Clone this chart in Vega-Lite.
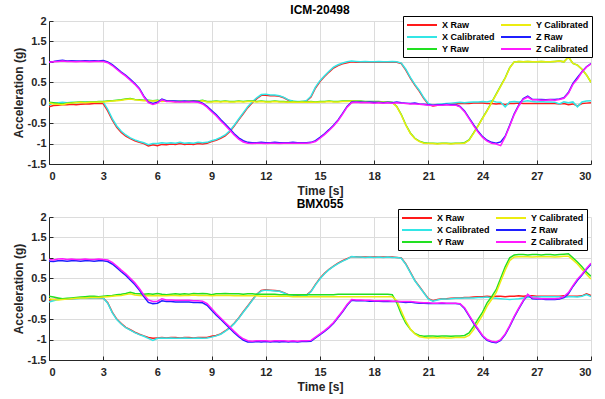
{
"$schema": "https://vega.github.io/schema/vega-lite/v6.json",
"background": "white",
"padding": {"left": 12, "top": 4, "right": 5, "bottom": 2},
"spacing": 1,
"datasets": {
"icm": [
{"t":0,"xr":-0.1,"xc":-0.05,"yr":0.01,"yc":0,"zr":1,"zc":0.99},
{"t":0.25,"xr":-0.07,"xc":-0.01,"yr":0,"yc":-0.03,"zr":1.01,"zc":1},
{"t":0.5,"xr":-0.06,"xc":0,"yr":-0.02,"yc":-0.04,"zr":1.03,"zc":1.01},
{"t":0.75,"xr":-0.05,"xc":0.01,"yr":-0.03,"yc":-0.05,"zr":1.04,"zc":1.02},
{"t":1,"xr":-0.05,"xc":0,"yr":-0.01,"yc":-0.02,"zr":1.02,"zc":1.01},
{"t":1.25,"xr":-0.04,"xc":0.01,"yr":0,"yc":-0.01,"zr":1.03,"zc":1.01},
{"t":1.5,"xr":-0.05,"xc":0,"yr":0.01,"yc":0,"zr":1.02,"zc":1},
{"t":1.75,"xr":-0.04,"xc":0.01,"yr":0.02,"yc":0.01,"zr":1.02,"zc":1.01},
{"t":2,"xr":-0.03,"xc":0.01,"yr":0.01,"yc":0,"zr":1.03,"zc":1.01},
{"t":2.25,"xr":-0.03,"xc":0.01,"yr":0.02,"yc":0.01,"zr":1.02,"zc":1},
{"t":2.5,"xr":-0.02,"xc":0.02,"yr":0.02,"yc":0.01,"zr":1.03,"zc":1.01},
{"t":2.75,"xr":-0.02,"xc":0.02,"yr":0.03,"yc":0.02,"zr":1.02,"zc":1.01},
{"t":3,"xr":-0.02,"xc":0.02,"yr":0.03,"yc":0.02,"zr":1.03,"zc":1.01},
{"t":3.25,"xr":-0.2,"xc":-0.16,"yr":0.04,"yc":0.03,"zr":1,"zc":0.98},
{"t":3.5,"xr":-0.42,"xc":-0.39,"yr":0.05,"yc":0.04,"zr":0.93,"zc":0.91},
{"t":3.75,"xr":-0.6,"xc":-0.57,"yr":0.06,"yc":0.05,"zr":0.84,"zc":0.82},
{"t":4,"xr":-0.73,"xc":-0.7,"yr":0.07,"yc":0.06,"zr":0.75,"zc":0.73},
{"t":4.25,"xr":-0.82,"xc":-0.79,"yr":0.09,"yc":0.08,"zr":0.67,"zc":0.65},
{"t":4.5,"xr":-0.88,"xc":-0.86,"yr":0.1,"yc":0.09,"zr":0.57,"zc":0.55},
{"t":4.75,"xr":-0.93,"xc":-0.91,"yr":0.08,"yc":0.07,"zr":0.47,"zc":0.45},
{"t":5,"xr":-0.97,"xc":-0.95,"yr":0.07,"yc":0.06,"zr":0.35,"zc":0.33},
{"t":5.25,"xr":-1,"xc":-0.98,"yr":0.06,"yc":0.05,"zr":0.16,"zc":0.14},
{"t":5.5,"xr":-1.06,"xc":-1.03,"yr":0.06,"yc":0.05,"zr":0.02,"zc":0},
{"t":5.75,"xr":-1.03,"xc":-1,"yr":0.05,"yc":0.04,"zr":-0.02,"zc":-0.04},
{"t":6,"xr":-1.05,"xc":-1,"yr":0.06,"yc":0.05,"zr":0.01,"zc":-0.01},
{"t":6.25,"xr":-1.02,"xc":-0.98,"yr":0.04,"yc":0.03,"zr":0.09,"zc":0.07},
{"t":6.5,"xr":-1.03,"xc":-0.99,"yr":0.05,"yc":0.04,"zr":0.05,"zc":0.03},
{"t":6.75,"xr":-1.01,"xc":-0.98,"yr":0.04,"yc":0.03,"zr":0.04,"zc":0.03},
{"t":7,"xr":-1.02,"xc":-0.99,"yr":0.03,"yc":0.02,"zr":0.04,"zc":0.02},
{"t":7.25,"xr":-1,"xc":-0.97,"yr":0.04,"yc":0.03,"zr":0.03,"zc":0.02},
{"t":7.5,"xr":-1.02,"xc":-0.99,"yr":0.03,"yc":0.02,"zr":0.04,"zc":0.02},
{"t":7.75,"xr":-1.01,"xc":-0.98,"yr":0.04,"yc":0.03,"zr":0.03,"zc":0.02},
{"t":8,"xr":-1.02,"xc":-0.99,"yr":0.05,"yc":0.04,"zr":0.04,"zc":0.02},
{"t":8.25,"xr":-1,"xc":-0.97,"yr":0.04,"yc":0.03,"zr":0.03,"zc":0.01},
{"t":8.5,"xr":-1.01,"xc":-0.98,"yr":0.06,"yc":0.05,"zr":-0.01,"zc":-0.03},
{"t":8.75,"xr":-0.99,"xc":-0.97,"yr":0.03,"yc":0.02,"zr":-0.09,"zc":-0.11},
{"t":9,"xr":-0.95,"xc":-0.93,"yr":0.03,"yc":0.02,"zr":-0.19,"zc":-0.22},
{"t":9.25,"xr":-0.92,"xc":-0.9,"yr":0.04,"yc":0.03,"zr":-0.29,"zc":-0.32},
{"t":9.5,"xr":-0.87,"xc":-0.85,"yr":0.03,"yc":0.02,"zr":-0.41,"zc":-0.44},
{"t":9.75,"xr":-0.81,"xc":-0.79,"yr":0.04,"yc":0.03,"zr":-0.52,"zc":-0.55},
{"t":10,"xr":-0.71,"xc":-0.69,"yr":0.03,"yc":0.02,"zr":-0.64,"zc":-0.67},
{"t":10.25,"xr":-0.57,"xc":-0.55,"yr":0.03,"yc":0.02,"zr":-0.76,"zc":-0.79},
{"t":10.5,"xr":-0.42,"xc":-0.4,"yr":0.04,"yc":0.03,"zr":-0.86,"zc":-0.89},
{"t":10.75,"xr":-0.27,"xc":-0.25,"yr":0.03,"yc":0.02,"zr":-0.93,"zc":-0.96},
{"t":11,"xr":-0.12,"xc":-0.1,"yr":0.04,"yc":0.03,"zr":-0.97,"zc":-0.99},
{"t":11.25,"xr":0,"xc":0.02,"yr":0.04,"yc":0.03,"zr":-0.98,"zc":-1},
{"t":11.5,"xr":0.1,"xc":0.12,"yr":0.03,"yc":0.02,"zr":-0.98,"zc":-0.99},
{"t":11.75,"xr":0.18,"xc":0.2,"yr":0.04,"yc":0.03,"zr":-0.97,"zc":-0.99},
{"t":12,"xr":0.18,"xc":0.21,"yr":0.03,"yc":0.02,"zr":-0.98,"zc":-1},
{"t":12.25,"xr":0.17,"xc":0.19,"yr":0.03,"yc":0.02,"zr":-0.98,"zc":-0.99},
{"t":12.5,"xr":0.17,"xc":0.19,"yr":0.04,"yc":0.03,"zr":-0.97,"zc":-0.99},
{"t":12.75,"xr":0.16,"xc":0.17,"yr":0.03,"yc":0.02,"zr":-0.98,"zc":-1},
{"t":13,"xr":0.12,"xc":0.13,"yr":0.03,"yc":0.02,"zr":-0.98,"zc":-0.99},
{"t":13.25,"xr":0.06,"xc":0.07,"yr":0.02,"yc":0.01,"zr":-0.98,"zc":-0.99},
{"t":13.5,"xr":0.03,"xc":0.04,"yr":0.03,"yc":0.02,"zr":-0.97,"zc":-0.99},
{"t":13.75,"xr":0.02,"xc":0.03,"yr":0.02,"yc":0.01,"zr":-0.98,"zc":-0.99},
{"t":14,"xr":0.02,"xc":0.03,"yr":0.03,"yc":0.02,"zr":-0.98,"zc":-0.99},
{"t":14.25,"xr":0.04,"xc":0.05,"yr":0.02,"yc":0.01,"zr":-0.98,"zc":-0.99},
{"t":14.5,"xr":0.14,"xc":0.16,"yr":0.03,"yc":0.02,"zr":-0.97,"zc":-0.98},
{"t":14.75,"xr":0.36,"xc":0.38,"yr":0.02,"yc":0.01,"zr":-0.93,"zc":-0.95},
{"t":15,"xr":0.52,"xc":0.54,"yr":0.03,"yc":0.02,"zr":-0.85,"zc":-0.87},
{"t":15.25,"xr":0.64,"xc":0.66,"yr":0.03,"yc":0.02,"zr":-0.76,"zc":-0.78},
{"t":15.5,"xr":0.75,"xc":0.77,"yr":0.04,"yc":0.03,"zr":-0.66,"zc":-0.68},
{"t":15.75,"xr":0.85,"xc":0.87,"yr":0.03,"yc":0.02,"zr":-0.55,"zc":-0.57},
{"t":16,"xr":0.91,"xc":0.93,"yr":0.03,"yc":0.02,"zr":-0.42,"zc":-0.44},
{"t":16.25,"xr":0.95,"xc":0.97,"yr":0.04,"yc":0.03,"zr":-0.26,"zc":-0.28},
{"t":16.5,"xr":0.98,"xc":1,"yr":0.04,"yc":0.03,"zr":-0.09,"zc":-0.11},
{"t":16.75,"xr":1,"xc":1.02,"yr":0.05,"yc":0.04,"zr":0.02,"zc":0},
{"t":17,"xr":0.99,"xc":1.01,"yr":0.04,"yc":0.03,"zr":0.02,"zc":0.01},
{"t":17.25,"xr":0.99,"xc":1,"yr":0.04,"yc":0.03,"zr":0.02,"zc":0},
{"t":17.5,"xr":0.99,"xc":1.01,"yr":0.03,"yc":0.02,"zr":0.01,"zc":0},
{"t":17.75,"xr":0.99,"xc":1,"yr":0.03,"yc":0.02,"zr":0.02,"zc":0},
{"t":18,"xr":0.99,"xc":1,"yr":0.03,"yc":0.02,"zr":0.01,"zc":-0.01},
{"t":18.25,"xr":0.99,"xc":1.01,"yr":0.03,"yc":0.02,"zr":0.01,"zc":0},
{"t":18.5,"xr":0.99,"xc":1,"yr":0.02,"yc":0.01,"zr":0,"zc":-0.01},
{"t":18.75,"xr":0.99,"xc":1,"yr":0.02,"yc":0.01,"zr":0.01,"zc":0},
{"t":19,"xr":0.99,"xc":1.01,"yr":0.01,"yc":0,"zr":0,"zc":-0.01},
{"t":19.25,"xr":0.99,"xc":1,"yr":-0.09,"yc":-0.1,"zr":0.02,"zc":0},
{"t":19.5,"xr":0.96,"xc":0.97,"yr":-0.29,"yc":-0.3,"zr":0,"zc":-0.01},
{"t":19.75,"xr":0.8,"xc":0.82,"yr":-0.54,"yc":-0.55,"zr":-0.01,"zc":-0.02},
{"t":20,"xr":0.6,"xc":0.62,"yr":-0.74,"yc":-0.75,"zr":-0.02,"zc":-0.03},
{"t":20.25,"xr":0.43,"xc":0.45,"yr":-0.87,"yc":-0.88,"zr":-0.01,"zc":-0.03},
{"t":20.5,"xr":0.28,"xc":0.3,"yr":-0.94,"yc":-0.95,"zr":-0.03,"zc":-0.04},
{"t":20.75,"xr":0.1,"xc":0.12,"yr":-0.98,"yc":-0.99,"zr":-0.04,"zc":-0.05},
{"t":21,"xr":-0.04,"xc":-0.02,"yr":-0.99,"yc":-1,"zr":-0.05,"zc":-0.06},
{"t":21.25,"xr":-0.08,"xc":-0.06,"yr":-0.99,"yc":-1,"zr":-0.06,"zc":-0.07},
{"t":21.5,"xr":-0.06,"xc":-0.04,"yr":-1,"yc":-1.01,"zr":-0.05,"zc":-0.06},
{"t":21.75,"xr":-0.05,"xc":-0.03,"yr":-0.99,"yc":-1,"zr":-0.05,"zc":-0.06},
{"t":22,"xr":-0.04,"xc":-0.02,"yr":-0.99,"yc":-1,"zr":-0.04,"zc":-0.05},
{"t":22.25,"xr":-0.03,"xc":-0.01,"yr":-1,"yc":-1.01,"zr":-0.05,"zc":-0.06},
{"t":22.5,"xr":-0.03,"xc":0,"yr":-0.99,"yc":-1,"zr":-0.05,"zc":-0.06},
{"t":22.75,"xr":-0.02,"xc":0.01,"yr":-0.99,"yc":-1,"zr":-0.09,"zc":-0.1},
{"t":23,"xr":-0.02,"xc":0,"yr":-0.98,"yc":-0.99,"zr":-0.2,"zc":-0.22},
{"t":23.25,"xr":-0.02,"xc":0.01,"yr":-0.91,"yc":-0.92,"zr":-0.37,"zc":-0.39},
{"t":23.5,"xr":-0.01,"xc":0.02,"yr":-0.74,"yc":-0.75,"zr":-0.54,"zc":-0.56},
{"t":23.75,"xr":-0.01,"xc":0.02,"yr":-0.56,"yc":-0.57,"zr":-0.7,"zc":-0.72},
{"t":24,"xr":-0.01,"xc":0.03,"yr":-0.37,"yc":-0.38,"zr":-0.83,"zc":-0.85},
{"t":24.25,"xr":-0.02,"xc":0.02,"yr":-0.19,"yc":-0.2,"zr":-0.92,"zc":-0.94},
{"t":24.5,"xr":-0.02,"xc":0.05,"yr":0.01,"yc":0,"zr":-0.97,"zc":-0.99},
{"t":24.75,"xr":-0.03,"xc":0.02,"yr":0.21,"yc":0.2,"zr":-0.99,"zc":-1.01},
{"t":25,"xr":-0.02,"xc":0.01,"yr":0.41,"yc":0.4,"zr":-0.96,"zc":-1.05},
{"t":25.25,"xr":-0.05,"xc":-0.1,"yr":0.61,"yc":0.6,"zr":-0.82,"zc":-0.84},
{"t":25.5,"xr":-0.02,"xc":0.02,"yr":0.86,"yc":0.85,"zr":-0.55,"zc":-0.57},
{"t":25.75,"xr":-0.02,"xc":0.03,"yr":1,"yc":1,"zr":-0.27,"zc":-0.29},
{"t":26,"xr":-0.01,"xc":0.02,"yr":1.01,"yc":1.01,"zr":-0.06,"zc":-0.08},
{"t":26.25,"xr":-0.02,"xc":0.03,"yr":1,"yc":1,"zr":0.1,"zc":0.08},
{"t":26.5,"xr":-0.02,"xc":0.05,"yr":1.01,"yc":1.01,"zr":0.16,"zc":0.14},
{"t":26.75,"xr":-0.02,"xc":0.03,"yr":1,"yc":1,"zr":0.08,"zc":0.07},
{"t":27,"xr":-0.02,"xc":0.02,"yr":1,"yc":1,"zr":0.08,"zc":0.07},
{"t":27.25,"xr":-0.02,"xc":0.03,"yr":1.01,"yc":1.01,"zr":0.08,"zc":0.06},
{"t":27.5,"xr":-0.02,"xc":0.02,"yr":1,"yc":1,"zr":0.07,"zc":0.06},
{"t":27.75,"xr":-0.02,"xc":0.02,"yr":1,"yc":1,"zr":0.08,"zc":0.07},
{"t":28,"xr":-0.02,"xc":0.01,"yr":1.01,"yc":1.01,"zr":0.08,"zc":0.06},
{"t":28.25,"xr":-0.03,"xc":-0.03,"yr":1.02,"yc":1.02,"zr":0.09,"zc":0.08},
{"t":28.5,"xr":-0.02,"xc":0.02,"yr":1,"yc":1,"zr":0.12,"zc":0.11},
{"t":28.75,"xr":-0.05,"xc":0,"yr":1.12,"yc":1.12,"zr":0.25,"zc":0.23},
{"t":29,"xr":-0.03,"xc":0.02,"yr":0.96,"yc":0.96,"zr":0.47,"zc":0.45},
{"t":29.25,"xr":-0.08,"xc":-0.1,"yr":0.92,"yc":0.92,"zr":0.62,"zc":0.58},
{"t":29.5,"xr":-0.02,"xc":0.02,"yr":0.82,"yc":0.82,"zr":0.76,"zc":0.75},
{"t":29.75,"xr":-0.01,"xc":0.04,"yr":0.68,"yc":0.68,"zr":0.88,"zc":0.87},
{"t":30,"xr":0,"xc":0.05,"yr":0.5,"yc":0.5,"zr":0.96,"zc":0.95}
],
"bmx": [
{"t":0,"xr":-0.03,"xc":-0.08,"yr":0.06,"yc":0,"zr":0.92,"zc":0.96},
{"t":0.25,"xr":-0.02,"xc":-0.05,"yr":0.04,"yc":-0.02,"zr":0.91,"zc":0.95},
{"t":0.5,"xr":-0.01,"xc":-0.02,"yr":0.02,"yc":-0.03,"zr":0.93,"zc":0.97},
{"t":0.75,"xr":0,"xc":-0.01,"yr":0,"yc":-0.02,"zr":0.93,"zc":0.98},
{"t":1,"xr":-0.01,"xc":-0.01,"yr":0.01,"yc":-0.01,"zr":0.92,"zc":0.96},
{"t":1.25,"xr":0,"xc":0,"yr":0.02,"yc":0,"zr":0.93,"zc":0.97},
{"t":1.5,"xr":0.01,"xc":0,"yr":0.03,"yc":0.01,"zr":0.93,"zc":0.96},
{"t":1.75,"xr":0.01,"xc":0.01,"yr":0.04,"yc":0.02,"zr":0.92,"zc":0.96},
{"t":2,"xr":0.02,"xc":0.01,"yr":0.05,"yc":0.02,"zr":0.93,"zc":0.97},
{"t":2.25,"xr":0.02,"xc":0.02,"yr":0.06,"yc":0.03,"zr":0.93,"zc":0.96},
{"t":2.5,"xr":0.03,"xc":0.02,"yr":0.06,"yc":0.03,"zr":0.92,"zc":0.96},
{"t":2.75,"xr":0.02,"xc":0.02,"yr":0.05,"yc":0.03,"zr":0.93,"zc":0.97},
{"t":3,"xr":0.02,"xc":0.02,"yr":0.06,"yc":0.04,"zr":0.93,"zc":0.96},
{"t":3.25,"xr":-0.1,"xc":-0.11,"yr":0.07,"yc":0.05,"zr":0.91,"zc":0.95},
{"t":3.5,"xr":-0.33,"xc":-0.34,"yr":0.08,"yc":0.06,"zr":0.85,"zc":0.89},
{"t":3.75,"xr":-0.5,"xc":-0.51,"yr":0.1,"yc":0.07,"zr":0.76,"zc":0.8},
{"t":4,"xr":-0.61,"xc":-0.62,"yr":0.11,"yc":0.08,"zr":0.66,"zc":0.7},
{"t":4.25,"xr":-0.7,"xc":-0.71,"yr":0.13,"yc":0.1,"zr":0.57,"zc":0.61},
{"t":4.5,"xr":-0.76,"xc":-0.77,"yr":0.16,"yc":0.12,"zr":0.46,"zc":0.5},
{"t":4.75,"xr":-0.82,"xc":-0.83,"yr":0.13,"yc":0.09,"zr":0.35,"zc":0.39},
{"t":5,"xr":-0.87,"xc":-0.88,"yr":0.12,"yc":0.08,"zr":0.21,"zc":0.25},
{"t":5.25,"xr":-0.91,"xc":-0.92,"yr":0.11,"yc":0.07,"zr":0.05,"zc":0.09},
{"t":5.5,"xr":-0.95,"xc":-0.97,"yr":0.12,"yc":0.08,"zr":-0.09,"zc":-0.03},
{"t":5.75,"xr":-0.97,"xc":-1.02,"yr":0.11,"yc":0.07,"zr":-0.12,"zc":-0.07},
{"t":6,"xr":-0.96,"xc":-0.97,"yr":0.13,"yc":0.08,"zr":-0.11,"zc":-0.06},
{"t":6.25,"xr":-0.95,"xc":-0.96,"yr":0.11,"yc":0.07,"zr":-0.05,"zc":0},
{"t":6.5,"xr":-0.96,"xc":-0.97,"yr":0.1,"yc":0.07,"zr":-0.07,"zc":-0.03},
{"t":6.75,"xr":-0.95,"xc":-0.96,"yr":0.11,"yc":0.08,"zr":-0.07,"zc":-0.03},
{"t":7,"xr":-0.95,"xc":-0.97,"yr":0.12,"yc":0.08,"zr":-0.08,"zc":-0.04},
{"t":7.25,"xr":-0.96,"xc":-0.97,"yr":0.11,"yc":0.07,"zr":-0.08,"zc":-0.04},
{"t":7.5,"xr":-0.95,"xc":-0.96,"yr":0.12,"yc":0.08,"zr":-0.08,"zc":-0.04},
{"t":7.75,"xr":-0.95,"xc":-0.97,"yr":0.11,"yc":0.08,"zr":-0.08,"zc":-0.04},
{"t":8,"xr":-0.96,"xc":-0.97,"yr":0.13,"yc":0.09,"zr":-0.09,"zc":-0.05},
{"t":8.25,"xr":-0.95,"xc":-0.96,"yr":0.12,"yc":0.08,"zr":-0.09,"zc":-0.05},
{"t":8.5,"xr":-0.95,"xc":-0.97,"yr":0.13,"yc":0.08,"zr":-0.1,"zc":-0.06},
{"t":8.75,"xr":-0.95,"xc":-0.96,"yr":0.12,"yc":0.08,"zr":-0.16,"zc":-0.12},
{"t":9,"xr":-0.92,"xc":-0.94,"yr":0.1,"yc":0.07,"zr":-0.28,"zc":-0.24},
{"t":9.25,"xr":-0.9,"xc":-0.91,"yr":0.12,"yc":0.08,"zr":-0.4,"zc":-0.36},
{"t":9.5,"xr":-0.86,"xc":-0.87,"yr":0.12,"yc":0.08,"zr":-0.5,"zc":-0.47},
{"t":9.75,"xr":-0.79,"xc":-0.8,"yr":0.13,"yc":0.08,"zr":-0.61,"zc":-0.58},
{"t":10,"xr":-0.71,"xc":-0.72,"yr":0.12,"yc":0.08,"zr":-0.72,"zc":-0.69},
{"t":10.25,"xr":-0.6,"xc":-0.61,"yr":0.12,"yc":0.07,"zr":-0.83,"zc":-0.8},
{"t":10.5,"xr":-0.47,"xc":-0.48,"yr":0.12,"yc":0.07,"zr":-0.93,"zc":-0.9},
{"t":10.75,"xr":-0.32,"xc":-0.33,"yr":0.11,"yc":0.07,"zr":-1.01,"zc":-0.98},
{"t":11,"xr":-0.18,"xc":-0.19,"yr":0.12,"yc":0.07,"zr":-1.06,"zc":-1.03},
{"t":11.25,"xr":-0.03,"xc":-0.04,"yr":0.12,"yc":0.07,"zr":-1.06,"zc":-1.04},
{"t":11.5,"xr":0.11,"xc":0.1,"yr":0.11,"yc":0.07,"zr":-1.05,"zc":-1.03},
{"t":11.75,"xr":0.2,"xc":0.19,"yr":0.11,"yc":0.06,"zr":-1.06,"zc":-1.03},
{"t":12,"xr":0.22,"xc":0.21,"yr":0.11,"yc":0.06,"zr":-1.05,"zc":-1.03},
{"t":12.25,"xr":0.21,"xc":0.2,"yr":0.11,"yc":0.06,"zr":-1.06,"zc":-1.04},
{"t":12.5,"xr":0.2,"xc":0.19,"yr":0.11,"yc":0.06,"zr":-1.05,"zc":-1.03},
{"t":12.75,"xr":0.19,"xc":0.18,"yr":0.1,"yc":0.06,"zr":-1.06,"zc":-1.03},
{"t":13,"xr":0.15,"xc":0.14,"yr":0.1,"yc":0.06,"zr":-1.05,"zc":-1.03},
{"t":13.25,"xr":0.1,"xc":0.09,"yr":0.1,"yc":0.06,"zr":-1.06,"zc":-1.04},
{"t":13.5,"xr":0.08,"xc":0.07,"yr":0.1,"yc":0.05,"zr":-1.05,"zc":-1.03},
{"t":13.75,"xr":0.07,"xc":0.06,"yr":0.1,"yc":0.05,"zr":-1.06,"zc":-1.04},
{"t":14,"xr":0.08,"xc":0.07,"yr":0.1,"yc":0.05,"zr":-1.05,"zc":-1.03},
{"t":14.25,"xr":0.09,"xc":0.08,"yr":0.1,"yc":0.05,"zr":-1.05,"zc":-1.03},
{"t":14.5,"xr":0.18,"xc":0.17,"yr":0.1,"yc":0.05,"zr":-1.04,"zc":-1.02},
{"t":14.75,"xr":0.35,"xc":0.34,"yr":0.1,"yc":0.05,"zr":-0.96,"zc":-0.94},
{"t":15,"xr":0.5,"xc":0.49,"yr":0.1,"yc":0.05,"zr":-0.88,"zc":-0.86},
{"t":15.25,"xr":0.62,"xc":0.61,"yr":0.1,"yc":0.05,"zr":-0.8,"zc":-0.78},
{"t":15.5,"xr":0.72,"xc":0.71,"yr":0.1,"yc":0.05,"zr":-0.71,"zc":-0.69},
{"t":15.75,"xr":0.8,"xc":0.79,"yr":0.1,"yc":0.05,"zr":-0.6,"zc":-0.58},
{"t":16,"xr":0.87,"xc":0.86,"yr":0.11,"yc":0.05,"zr":-0.46,"zc":-0.44},
{"t":16.25,"xr":0.93,"xc":0.92,"yr":0.11,"yc":0.05,"zr":-0.32,"zc":-0.3},
{"t":16.5,"xr":0.98,"xc":0.97,"yr":0.11,"yc":0.05,"zr":-0.16,"zc":-0.14},
{"t":16.75,"xr":1.03,"xc":1.03,"yr":0.11,"yc":0.05,"zr":-0.04,"zc":-0.02},
{"t":17,"xr":1.03,"xc":1.02,"yr":0.11,"yc":0.05,"zr":-0.05,"zc":-0.03},
{"t":17.25,"xr":1.02,"xc":1.02,"yr":0.11,"yc":0.05,"zr":-0.05,"zc":-0.03},
{"t":17.5,"xr":1.02,"xc":1.01,"yr":0.11,"yc":0.05,"zr":-0.05,"zc":-0.04},
{"t":17.75,"xr":1.02,"xc":1.02,"yr":0.11,"yc":0.05,"zr":-0.06,"zc":-0.04},
{"t":18,"xr":1.02,"xc":1.01,"yr":0.11,"yc":0.05,"zr":-0.06,"zc":-0.05},
{"t":18.25,"xr":1.02,"xc":1.02,"yr":0.11,"yc":0.05,"zr":-0.06,"zc":-0.05},
{"t":18.5,"xr":1.02,"xc":1.01,"yr":0.11,"yc":0.05,"zr":-0.07,"zc":-0.05},
{"t":18.75,"xr":1.02,"xc":1.02,"yr":0.11,"yc":0.05,"zr":-0.06,"zc":-0.05},
{"t":19,"xr":1.02,"xc":1.01,"yr":0.1,"yc":0.05,"zr":-0.07,"zc":-0.06},
{"t":19.25,"xr":1.01,"xc":1.01,"yr":-0.1,"yc":-0.05,"zr":-0.07,"zc":-0.06},
{"t":19.5,"xr":1,"xc":0.99,"yr":-0.38,"yc":-0.3,"zr":-0.08,"zc":-0.07},
{"t":19.75,"xr":0.85,"xc":0.84,"yr":-0.6,"yc":-0.55,"zr":-0.09,"zc":-0.07},
{"t":20,"xr":0.65,"xc":0.64,"yr":-0.75,"yc":-0.74,"zr":-0.08,"zc":-0.07},
{"t":20.25,"xr":0.45,"xc":0.44,"yr":-0.85,"yc":-0.86,"zr":-0.1,"zc":-0.08},
{"t":20.5,"xr":0.3,"xc":0.29,"yr":-0.9,"yc":-0.93,"zr":-0.11,"zc":-0.09},
{"t":20.75,"xr":0.15,"xc":0.14,"yr":-0.92,"yc":-0.95,"zr":-0.11,"zc":-0.1},
{"t":21,"xr":0,"xc":-0.01,"yr":-0.91,"yc":-0.96,"zr":-0.12,"zc":-0.1},
{"t":21.25,"xr":-0.05,"xc":-0.06,"yr":-0.91,"yc":-0.95,"zr":-0.12,"zc":-0.11},
{"t":21.5,"xr":-0.02,"xc":-0.03,"yr":-0.92,"yc":-0.96,"zr":-0.12,"zc":-0.11},
{"t":21.75,"xr":0,"xc":-0.01,"yr":-0.91,"yc":-0.95,"zr":-0.12,"zc":-0.1},
{"t":22,"xr":0,"xc":-0.01,"yr":-0.91,"yc":-0.96,"zr":-0.12,"zc":-0.11},
{"t":22.25,"xr":0.01,"xc":0,"yr":-0.92,"yc":-0.96,"zr":-0.12,"zc":-0.11},
{"t":22.5,"xr":0.02,"xc":0.01,"yr":-0.91,"yc":-0.95,"zr":-0.12,"zc":-0.11},
{"t":22.75,"xr":0.02,"xc":0.01,"yr":-0.91,"yc":-0.95,"zr":-0.13,"zc":-0.12},
{"t":23,"xr":0.03,"xc":0.02,"yr":-0.9,"yc":-0.95,"zr":-0.24,"zc":-0.22},
{"t":23.25,"xr":0.03,"xc":0.02,"yr":-0.84,"yc":-0.9,"zr":-0.42,"zc":-0.4},
{"t":23.5,"xr":0.04,"xc":0.02,"yr":-0.68,"yc":-0.76,"zr":-0.6,"zc":-0.58},
{"t":23.75,"xr":0.05,"xc":0.03,"yr":-0.5,"yc":-0.58,"zr":-0.76,"zc":-0.74},
{"t":24,"xr":0.05,"xc":0.03,"yr":-0.33,"yc":-0.4,"zr":-0.92,"zc":-0.9},
{"t":24.25,"xr":0.06,"xc":0.04,"yr":-0.1,"yc":-0.18,"zr":-1.02,"zc":-1},
{"t":24.5,"xr":0.05,"xc":0.02,"yr":0.05,"yc":-0.02,"zr":-1.06,"zc":-1.04},
{"t":24.75,"xr":0.06,"xc":0.01,"yr":0.22,"yc":0.15,"zr":-1.08,"zc":-1.06},
{"t":25,"xr":0.06,"xc":0,"yr":0.5,"yc":0.42,"zr":-1.02,"zc":-1},
{"t":25.25,"xr":0.05,"xc":-0.01,"yr":0.78,"yc":0.7,"zr":-0.88,"zc":-0.86},
{"t":25.5,"xr":0.06,"xc":-0.02,"yr":1,"yc":0.93,"zr":-0.68,"zc":-0.66},
{"t":25.75,"xr":0.06,"xc":-0.01,"yr":1.07,"yc":1.02,"zr":-0.45,"zc":-0.43},
{"t":26,"xr":0.07,"xc":0,"yr":1.08,"yc":1.03,"zr":-0.25,"zc":-0.23},
{"t":26.25,"xr":0.06,"xc":0.02,"yr":1.08,"yc":1.03,"zr":-0.06,"zc":-0.04},
{"t":26.5,"xr":0.07,"xc":0.03,"yr":1.07,"yc":1.03,"zr":0.1,"zc":0.11},
{"t":26.75,"xr":0.07,"xc":0.04,"yr":1.08,"yc":1.02,"zr":0,"zc":0.02},
{"t":27,"xr":0.06,"xc":0.04,"yr":1.08,"yc":1.03,"zr":-0.01,"zc":0.01},
{"t":27.25,"xr":0.06,"xc":0.05,"yr":1.07,"yc":1.03,"zr":-0.01,"zc":0},
{"t":27.5,"xr":0.06,"xc":0.05,"yr":1.08,"yc":1.03,"zr":-0.02,"zc":0},
{"t":27.75,"xr":0.06,"xc":0.05,"yr":1.08,"yc":1.03,"zr":-0.02,"zc":0},
{"t":28,"xr":0.06,"xc":0.05,"yr":1.07,"yc":1.02,"zr":-0.02,"zc":0},
{"t":28.25,"xr":0.06,"xc":0.05,"yr":1.08,"yc":1.03,"zr":-0.01,"zc":0.01},
{"t":28.5,"xr":0.07,"xc":0.03,"yr":1.09,"yc":1.04,"zr":0.03,"zc":0.05},
{"t":28.75,"xr":0.06,"xc":0.05,"yr":1.1,"yc":1.04,"zr":0.12,"zc":0.15},
{"t":29,"xr":0.06,"xc":0.05,"yr":1,"yc":0.95,"zr":0.3,"zc":0.32},
{"t":29.25,"xr":0.06,"xc":0.04,"yr":0.9,"yc":0.85,"zr":0.45,"zc":0.48},
{"t":29.5,"xr":0.07,"xc":0.06,"yr":0.78,"yc":0.72,"zr":0.58,"zc":0.6},
{"t":29.75,"xr":0.12,"xc":0.1,"yr":0.65,"yc":0.6,"zr":0.72,"zc":0.74},
{"t":30,"xr":0.08,"xc":0.05,"yr":0.55,"yc":0.48,"zr":0.85,"zc":0.87}
]
},
"resolve": {"scale": {"color": "independent"}, "legend": {"color": "independent"}},
"vconcat": [
{
"title": {"text": "ICM-20498", "frame": "group"},
"width": 542,
"height": 143,
"data": {"name": "icm"},
"transform": [{"fold": ["xr", "xc", "yr", "yc", "zr", "zc"], "as": ["k", "v"]}],
"mark": {"type": "line", "strokeWidth": 1.5, "clip": true},
"encoding": {
"x": {"field": "t", "type": "quantitative", "scale": {"domain": [0, 30], "nice": false}, "axis": {"title": "Time [s]", "values": [0, 3, 6, 9, 12, 15, 18, 21, 24, 27, 30], "labelExpr": "'' + datum.value"}},
"y": {"field": "v", "type": "quantitative", "scale": {"domain": [-1.5, 2], "nice": false}, "axis": {"title": "Acceleration (g)", "values": [-1.5, -1, -0.5, 0, 0.5, 1, 1.5, 2], "labelExpr": "'' + datum.value"}},
"color": {"field": "k", "type": "nominal",
"scale": {"domain": ["xr", "xc", "yr", "yc", "zr", "zc"], "range": ["#ff1a1a", "#33e6e6", "#22e022", "#ecec10", "#1f1fff", "#ff1aff"]},
"legend": {"orient": "none", "legendX": 354, "legendY": -5, "columns": 2, "title": null, "symbolType": "M-3,0H3", "symbolSize": 100, "symbolOffset": 10, "symbolStrokeWidth": 2, "labelFont": "Liberation Sans", "labelFontSize": 9, "labelFontWeight": "bold", "labelColor": "black", "strokeColor": "black", "fillColor": "white", "padding": 3, "rowPadding": 1, "columnPadding": 2, "labelOffset": 14,
"labelExpr": "datum.value == 'xr' ? 'X Raw' : datum.value == 'xc' ? 'X Calibrated' : datum.value == 'yr' ? 'Y Raw' : datum.value == 'yc' ? 'Y Calibrated' : datum.value == 'zr' ? 'Z Raw' : 'Z Calibrated'"}}
}
},
{
"title": {"text": "BMX055", "frame": "group"},
"width": 542,
"height": 143,
"data": {"name": "bmx"},
"transform": [{"fold": ["xr", "xc", "yr", "yc", "zr", "zc"], "as": ["k", "v"]}],
"mark": {"type": "line", "strokeWidth": 1.5, "clip": true},
"encoding": {
"x": {"field": "t", "type": "quantitative", "scale": {"domain": [0, 30], "nice": false}, "axis": {"title": "Time [s]", "values": [0, 3, 6, 9, 12, 15, 18, 21, 24, 27, 30], "labelExpr": "'' + datum.value"}},
"y": {"field": "v", "type": "quantitative", "scale": {"domain": [-1.5, 2], "nice": false}, "axis": {"title": "Acceleration (g)", "values": [-1.5, -1, -0.5, 0, 0.5, 1, 1.5, 2], "labelExpr": "'' + datum.value"}},
"color": {"field": "k", "type": "nominal",
"scale": {"domain": ["xr", "xc", "yr", "yc", "zr", "zc"], "range": ["#ff1a1a", "#33e6e6", "#22e022", "#ecec10", "#1f1fff", "#ff1aff"]},
"legend": {"orient": "none", "legendX": 349, "legendY": -8, "columns": 2, "title": null, "symbolType": "M-3,0H3", "symbolSize": 100, "symbolOffset": 10, "symbolStrokeWidth": 2, "labelFont": "Liberation Sans", "labelFontSize": 9, "labelFontWeight": "bold", "labelColor": "black", "strokeColor": "black", "fillColor": "white", "padding": 3, "rowPadding": 1, "columnPadding": 2, "labelOffset": 14,
"labelExpr": "datum.value == 'xr' ? 'X Raw' : datum.value == 'xc' ? 'X Calibrated' : datum.value == 'yr' ? 'Y Raw' : datum.value == 'yc' ? 'Y Calibrated' : datum.value == 'zr' ? 'Z Raw' : 'Z Calibrated'"}}
}
}
],
"config": {
"font": "Liberation Sans",
"view": {"stroke": null},
"axis": {"labelFont": "Liberation Sans", "labelFontSize": 11, "labelFontWeight": "bold", "labelColor": "#262626", "titleFont": "Liberation Sans", "titleFontSize": 12, "titleFontWeight": "bold", "titleColor": "#262626", "domainColor": "#262626", "tickColor": "#262626", "tickSize": -4, "gridColor": "#dcdcdc", "gridOpacity": 1, "domainWidth": 1},
"axisX": {"labelPadding": 10, "titlePadding": 4},
"axisY": {"labelPadding": 7, "titlePadding": 2},
"title": {"font": "Liberation Sans", "fontSize": 12, "fontWeight": "bold", "color": "black", "offset": -2}
}
}
